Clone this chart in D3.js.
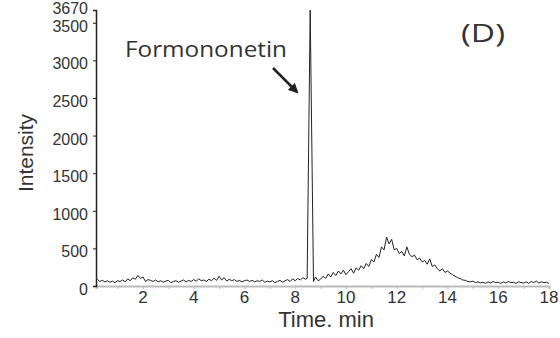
<!DOCTYPE html>
<html>
<head>
<meta charset="utf-8">
<script src="https://cdn.jsdelivr.net/npm/d3@7"></script>
<style>
  body { margin: 0; background: #fff; }
  svg text { fill: #333; }
</style>
</head>
<body>
<div id="chart"></div>
<script>
// chromatogram (time in min, intensity)
var earlyStart = 0.2;   // first sample before the peak
var earlyValues = [
  90, 60, 75, 55, 70, 50, 65, 45, 70, 60,
  80, 55, 95, 70, 110, 90, 140, 100, 120, 60,
  85, 75, 60, 80, 55, 70, 50, 65, 75, 45,
  60, 70, 50, 65, 80, 55, 75, 60, 85, 65,
  95, 70, 80, 60, 90, 70, 105, 75, 130, 80,
  110, 65, 90, 70, 85, 60, 75, 55, 70, 80,
  60, 75, 55, 70, 60, 80, 50, 65, 55, 70,
  45, 60, 75, 50, 70, 85, 60, 95, 70, 100,
  80, 110, 90
];
var peakTimes = [8.47, 8.59, 8.72];
var peakValues = [100, 3670, 60];
var lateStart = 8.8;
var lateValues = [
  120, 70, 90, 130, 100, 160, 120, 180, 140, 200,
  160, 210, 150, 190, 230, 170, 240, 210, 270, 230,
  300, 260, 350, 320, 420, 380, 520, 480, 650, 560,
  620, 480, 500, 430, 460, 400, 520, 420, 390, 410,
  350, 370, 320, 340, 290, 360, 260, 280, 230, 200,
  230, 180, 200, 170, 150, 130, 110, 100, 80, 75,
  60, 55, 65, 45, 55, 40, 50, 35, 55, 40,
  60, 45, 50, 35, 55, 40, 60, 45, 50, 35,
  55, 45, 40, 55, 35, 60, 45, 65, 40, 55,
  45, 50, 35
];
var step = 0.1;
var xTicks = [2, 4, 6, 8, 10, 12, 14, 16, 18];
var yTicks = [0, 500, 1000, 1500, 2000, 2500, 3000, 3500, 3670];

var trace = [];
earlyValues.forEach(function (v, i) { trace.push([earlyStart + i * step, v]); });
peakTimes.forEach(function (t, i) { trace.push([t, peakValues[i]]); });
lateValues.forEach(function (v, i) { trace.push([lateStart + i * step, v]); });

var width = 560, height = 338;
var svg = d3.select("#chart").append("svg")
  .attr("width", width).attr("height", height);

var x = d3.scaleLinear().domain([0.15, 18]).range([96, 549]);
var y = d3.scaleLinear().domain([0, 3670]).range([286, 10]);

// x axis (light grey baseline)
var xAxis = svg.append("g").attr("transform", "translate(0," + y(0) + ")")
  .call(d3.axisBottom(x).tickValues(d3.range(1, 19)).tickSize(3).tickFormat(""));
xAxis.select(".domain").attr("stroke", "#bbb").attr("stroke-width", 2);
xAxis.selectAll(".tick line").attr("stroke", "#bbb");

svg.append("g").selectAll("text").data(xTicks).enter().append("text")
  .attr("x", function (d) { return x(d); })
  .attr("y", 303)
  .attr("text-anchor", "middle")
  .style("font", "17px 'Liberation Sans', Arial, sans-serif")
  .text(function (d) { return d; });

// y axis
var yAxis = svg.append("g").attr("transform", "translate(" + x(0.15) + ",0)")
  .call(d3.axisLeft(y).tickValues(yTicks).tickSize(3).tickFormat(""));
yAxis.select(".domain").attr("stroke", "#222").attr("stroke-width", 1.5);
yAxis.selectAll(".tick line").attr("stroke", "#222");

svg.append("g").selectAll("text").data(yTicks).enter().append("text")
  .attr("x", 88)
  .attr("y", function (d) { return y(d) + (d === 3670 ? -2 : 3.5); })
  .attr("dy", "0.35em")
  .attr("text-anchor", "end")
  .style("font", "16px 'Liberation Sans', Arial, sans-serif")
  .text(function (d) { return d; });

// trace
var line = d3.line().x(function (d) { return x(d[0]); }).y(function (d) { return y(d[1]); });
svg.append("path").datum(trace)
  .attr("d", line)
  .attr("fill", "none")
  .attr("stroke", "#222")
  .attr("stroke-width", 1)
  .attr("stroke-linejoin", "round");

// labels
svg.append("text")
  .attr("transform", "translate(33,153) rotate(-90)")
  .attr("text-anchor", "middle")
  .style("font", "21px 'Liberation Sans', Arial, sans-serif")
  .text("Intensity");

svg.append("text")
  .attr("x", 326).attr("y", 327)
  .attr("text-anchor", "middle")
  .style("font", "22px 'Liberation Sans', Arial, sans-serif")
  .text("Time. min");

svg.append("text")
  .attr("x", 125).attr("y", 57)
  .attr("textLength", 162).attr("lengthAdjust", "spacingAndGlyphs")
  .style("font", "22px 'Open Sans', sans-serif")
  .text("Formononetin");

svg.append("text")
  .attr("x", 461).attr("y", 42)
  .attr("textLength", 44).attr("lengthAdjust", "spacingAndGlyphs")
  .style("font", "25px 'Open Sans', sans-serif")
  .text("(D)");

// arrow
svg.append("defs").append("marker")
  .attr("id", "head").attr("viewBox", "0 0 10 10")
  .attr("refX", 8).attr("refY", 5)
  .attr("markerWidth", 4).attr("markerHeight", 4)
  .attr("orient", "auto")
  .append("path").attr("d", "M0,0L10,5L0,10z").attr("fill", "#222");
svg.append("line")
  .attr("x1", 273).attr("y1", 68).attr("x2", 297).attr("y2", 92)
  .attr("stroke", "#222").attr("stroke-width", 2.5)
  .attr("marker-end", "url(#head)");
</script>
</body>
</html>
